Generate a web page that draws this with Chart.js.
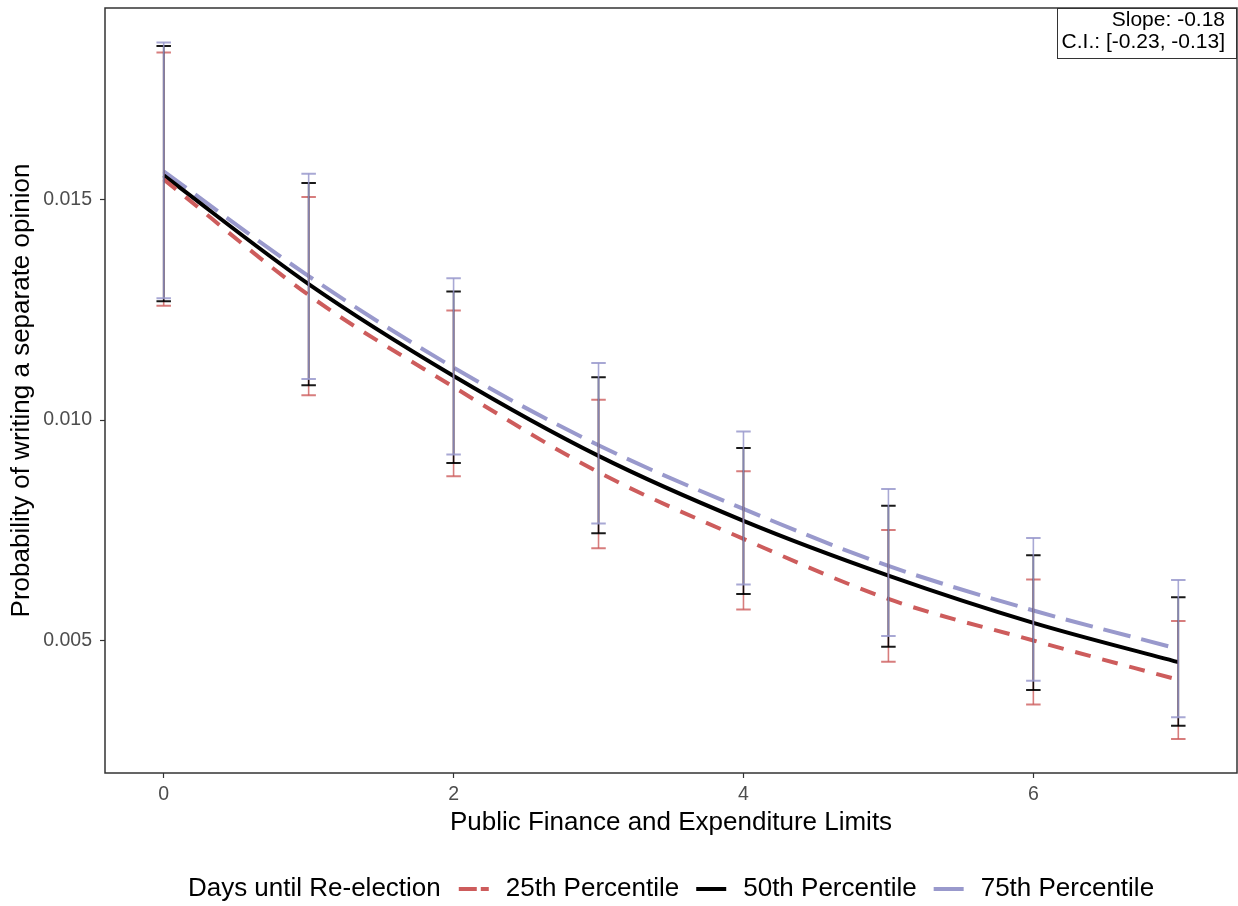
<!DOCTYPE html>
<html><head><meta charset="utf-8">
<script src="https://cdn.jsdelivr.net/npm/chart.js@4"></script>
<style>html,body{margin:0;padding:0;background:#fff}</style>
</head><body>
<canvas id="c" width="1238" height="906" style="display:block;width:1238px;height:906px"></canvas>
<script>
const xValues = [0, 1, 2, 3, 4, 5, 6, 7];
const p25Mean  = [0.01545, 0.01283, 0.01075, 0.00882, 0.00731, 0.00595, 0.00501, 0.00412];
const p25Lower = [0.01259, 0.01056, 0.00873, 0.00710, 0.00571, 0.00453, 0.00356, 0.00278];
const p25Upper = [0.01832, 0.01505, 0.01248, 0.01046, 0.00884, 0.00751, 0.00639, 0.00545];
const p50Mean  = [0.01554, 0.01308, 0.01100, 0.00919, 0.00772, 0.00648, 0.00541, 0.00452];
const p50Lower = [0.01269, 0.01079, 0.00903, 0.00744, 0.00606, 0.00487, 0.00389, 0.00308];
const p50Upper = [0.01847, 0.01537, 0.01291, 0.01097, 0.00937, 0.00806, 0.00694, 0.00599];
const p75Mean  = [0.01563, 0.01326, 0.01119, 0.00943, 0.00799, 0.00670, 0.00569, 0.00482];
const p75Lower = [0.01276, 0.01093, 0.00922, 0.00766, 0.00628, 0.00511, 0.00410, 0.00327];
const p75Upper = [0.01855, 0.01558, 0.01321, 0.01129, 0.00974, 0.00844, 0.00733, 0.00638];
const yTicks = [0.005, 0.010, 0.015];
const xTicks = [0, 2, 4, 6];
const seriesLabels = ['25th Percentile', '50th Percentile', '75th Percentile'];
const legendTitle = 'Days until Re-election';
const xTitle = 'Public Finance and Expenditure Limits';
const yTitle = 'Probability of writing a separate opinion';
const noteLines = ['Slope: -0.18', 'C.I.: [-0.23, -0.13]'];

const RED = 'rgb(205,92,92)', BLACK = '#000000', BLUE = 'rgb(153,153,204)';
const RED_EB = 'rgba(205,92,92,0.8)', BLACK_EB = 'rgba(0,0,0,0.9)', BLUE_EB = 'rgba(153,153,204,0.85)';
const FONT = '"Liberation Sans", Arial, Helvetica, sans-serif';

const pts = arr => xValues.map((x, i) => ({x: x, y: arr[i]}));

const errorBars = [
  {lo: p25Lower, hi: p25Upper, color: RED_EB},
  {lo: p50Lower, hi: p50Upper, color: BLACK_EB},
  {lo: p75Lower, hi: p75Upper, color: BLUE_EB}
];

const decorPlugin = {
  id: 'decor',
  afterDatasetsDraw(chart) {
    const ctx = chart.ctx, xs = chart.scales.x, ys = chart.scales.y;
    ctx.save();
    const half = xs.getPixelForValue(0.05) - xs.getPixelForValue(0);
    errorBars.forEach(eb => {
      ctx.strokeStyle = eb.color;
      xValues.forEach((x, i) => {
        const px = xs.getPixelForValue(x);
        const yl = ys.getPixelForValue(eb.lo[i]);
        const yh = ys.getPixelForValue(eb.hi[i]);
        ctx.lineWidth = 1.6;
        ctx.beginPath(); ctx.moveTo(px, yl); ctx.lineTo(px, yh); ctx.stroke();
        ctx.lineWidth = 2;
        ctx.beginPath();
        ctx.moveTo(px - half, yl); ctx.lineTo(px + half, yl);
        ctx.moveTo(px - half, yh); ctx.lineTo(px + half, yh);
        ctx.stroke();
      });
    });
    ctx.restore();
  },
  afterDraw(chart) {
    const ctx = chart.ctx, a = chart.chartArea;
    ctx.save();
    ctx.strokeStyle = '#333333';
    ctx.lineWidth = 1.5;
    ctx.strokeRect(a.left, a.top, a.right - a.left, a.bottom - a.top);
    // annotation box
    ctx.font = '21px ' + FONT;
    const bw = 180, bh = 51;
    ctx.fillStyle = '#ffffff';
    ctx.fillRect(a.right - bw, a.top, bw, bh);
    ctx.lineWidth = 1;
    ctx.strokeStyle = '#333333';
    ctx.strokeRect(a.right - bw + 0.5, a.top + 0.5, bw - 1, bh - 1);
    ctx.fillStyle = '#000000';
    ctx.textAlign = 'right';
    ctx.textBaseline = 'middle';
    ctx.fillText(noteLines[0], a.right - 12, a.top + 12);
    ctx.fillText(noteLines[1], a.right - 12, a.top + 34);
    // axis titles
    ctx.font = '26px ' + FONT;
    ctx.textAlign = 'center';
    ctx.fillText(xTitle, (a.left + a.right) / 2, 823);
    ctx.save();
    ctx.translate(22, (a.top + a.bottom) / 2);
    ctx.rotate(-Math.PI / 2);
    ctx.fillText(yTitle, 0, 0);
    ctx.restore();
    // legend
    const ly = 889;
    ctx.font = '26px ' + FONT;
    const keyW = 30, gapKey = 17, gapItem = 17, gapTitle = 18;
    const items = [
      {label: seriesLabels[0], color: RED, dash: [18, 4]},
      {label: seriesLabels[1], color: BLACK, dash: []},
      {label: seriesLabels[2], color: BLUE, dash: []}
    ];
    let total = ctx.measureText(legendTitle).width + gapTitle;
    items.forEach((it, k) => {
      total += keyW + gapKey + ctx.measureText(it.label).width + (k < items.length - 1 ? gapItem : 0);
    });
    let cx = 671 - total / 2;
    ctx.textAlign = 'left';
    ctx.fillStyle = '#000000';
    ctx.fillText(legendTitle, cx, ly);
    cx += ctx.measureText(legendTitle).width + gapTitle;
    items.forEach(it => {
      ctx.strokeStyle = it.color;
      ctx.lineWidth = 4;
      ctx.setLineDash(it.dash);
      ctx.beginPath(); ctx.moveTo(cx, ly); ctx.lineTo(cx + keyW, ly); ctx.stroke();
      ctx.setLineDash([]);
      cx += keyW + gapKey;
      ctx.fillStyle = '#000000';
      ctx.fillText(it.label, cx, ly);
      cx += ctx.measureText(it.label).width + gapItem;
    });
    ctx.restore();
  }
};

new Chart(document.getElementById('c'), {
  type: 'line',
  data: {
    datasets: [
      {label: seriesLabels[0], data: pts(p25Mean), borderColor: RED, borderWidth: 4, borderDash: [16, 12], pointRadius: 0, cubicInterpolationMode: 'monotone', fill: false},
      {label: seriesLabels[1], data: pts(p50Mean), borderColor: BLACK, borderWidth: 4, pointRadius: 0, cubicInterpolationMode: 'monotone', fill: false},
      {label: seriesLabels[2], data: pts(p75Mean), borderColor: BLUE, borderWidth: 4, borderDash: [28, 11], pointRadius: 0, cubicInterpolationMode: 'monotone', fill: false}
    ]
  },
  options: {
    responsive: false,
    animation: false,
    devicePixelRatio: 1,
    layout: {padding: {top: 8, right: 1, left: 0, bottom: 0}},
    plugins: {legend: {display: false}, tooltip: {enabled: false}},
    scales: {
      x: {
        type: 'linear',
        min: -0.405, max: 7.405,
        afterFit: s => { s.height = 133; s.paddingLeft = 0; s.paddingRight = 0; },
        afterBuildTicks: s => { s.ticks = xTicks.map(v => ({value: v})); },
        ticks: {font: {size: 19.5, family: FONT}, color: '#4d4d4d', padding: 5, maxRotation: 0, callback: v => String(v)},
        grid: {drawOnChartArea: false, tickLength: 5, color: '#333333', tickWidth: 1.2},
        border: {display: false}
      },
      y: {
        type: 'linear',
        min: 0.00201, max: 0.01933,
        afterFit: s => { s.width = 105; s.paddingTop = 0; s.paddingBottom = 0; },
        afterBuildTicks: s => { s.ticks = yTicks.map(v => ({value: v})); },
        ticks: {font: {size: 19.5, family: FONT}, color: '#4d4d4d', padding: 8, callback: v => Number(v).toFixed(3)},
        grid: {drawOnChartArea: false, tickLength: 5, color: '#333333', tickWidth: 1.2},
        border: {display: false}
      }
    }
  },
  plugins: [decorPlugin]
});
</script>
</body></html>
